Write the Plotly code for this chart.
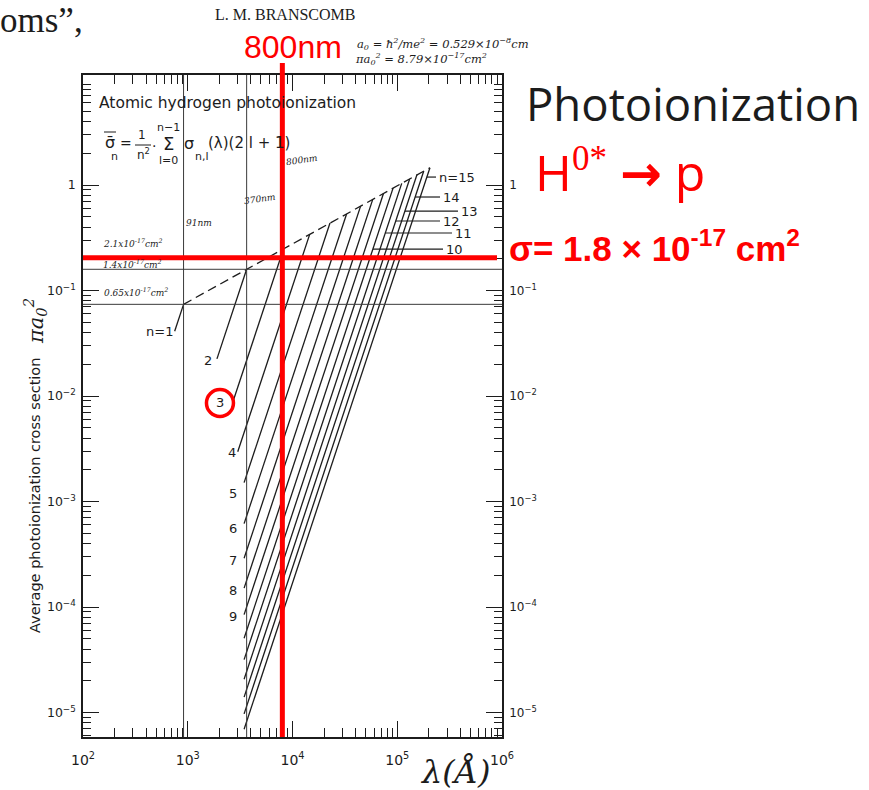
import math
import plotly.graph_objects as go

# ---------------------------------------------------------------------------
# Data: averaged photoionization cross sections of atomic hydrogen, in units
# of pi*a0^2, versus wavelength in Angstrom
# ---------------------------------------------------------------------------
n_levels = [1, 2, 3, 4, 5, 6, 7, 8, 9, 10, 11, 12, 13, 14, 15]
threshold_wl = [912, 3648, 8208, 14592, 22800, 32832, 44688, 58368, 73872,
                91200, 110352, 131328, 154128, 178752, 205200]
threshold_sigma = [0.074, 0.159, 0.248, 0.341, 0.436, 0.532, 0.631, 0.731,
                   0.832, 0.934, 1.037, 1.14, 1.25, 1.35, 1.46]
end_wl = [750, 1900, 2700, 3000, 3450, 3450, 3450, 3450, 3450,
          3450, 3450, 3450, 3450, 3450, 3450]
end_sigma = [0.0411, 0.0225, 0.00883, 0.00296, 0.00151, 6.17e-4, 2.90e-4,
             1.51e-4, 8.48e-5, 5.06e-5, 3.17e-5, 2.07e-5, 1.40e-5, 9.71e-6,
             6.94e-6]

# curve labels on the short-wavelength side
low_labels = ["n=1", "2", "3", "4", "5", "6", "7", "8", "9"]
low_label_wl = [543, 1560, 2030, 2640, 2700, 2700, 2700, 2700, 2700]
low_label_sigma = [0.0413, 0.0219, 0.0086, 0.00294, 0.00120, 5.6e-4,
                   2.79e-4, 1.42e-4, 8.2e-5]

# curve labels on the long-wavelength side, with leader lines
high_labels = ["n=15", "14", "13", "12", "11", "10"]
leader_sigma = [1.19, 0.77, 0.567, 0.456, 0.351, 0.247]
leader_wl_start = [191700, 148200, 118400, 96800, 76900, 58500]
leader_wl_end = [234400, 255900, 380000, 255900, 333000, 273400]

# reference wavelengths (Angstrom) and cross-section levels (pi*a0^2)
ref_wl = [912, 3650]
ref_wl_text = ["91nm", "370nm"]
ref_sigma = [0.159, 0.074]
ref_sigma_text = ["1.4x10<sup>-17</sup>cm<sup>2</sup>", "0.65x10<sup>-17</sup>cm<sup>2</sup>"]

# 800 nm marker
laser_wl = 8000
sigma_800_cm2 = 1.8e-17
pi_a0_sq_cm2 = 8.79e-17
sigma_800 = sigma_800_cm2 / pi_a0_sq_cm2

# axes
x_tick_vals = [1e2, 1e3, 1e4, 1e5, 1e6]
x_tick_text = ["10<sup>2</sup>", "10<sup>3</sup>", "10<sup>4</sup>", "10<sup>5</sup>", "10<sup>6</sup>"]
y_tick_vals = [1e-5, 1e-4, 1e-3, 1e-2, 1e-1, 1]
y_tick_text = ["10<sup>−5</sup>", "10<sup>−4</sup>", "10<sup>−3</sup>", "10<sup>−2</sup>", "10<sup>−1</sup>", "1"]
x_minor = [m * 10 ** e for e in range(2, 6) for m in range(2, 10)]
y_minor = [m * 10 ** e for e in range(-6, 1) for m in range(2, 10)]

W, H = 869, 790
L, R, T, B = 83, 502, 75, 737
X_RANGE = [2, 6]
Y_RANGE = [-5.232, 1.043]

INK = "#1c1c1c"
RED = "#ff0000"


def px(xp):
    return (xp - L) / (R - L)


def py(yp):
    return (B - yp) / (B - T)


fig = go.Figure()

# photoionization curves for each n
for wl0, s0, wl1, s1 in zip(end_wl, end_sigma, threshold_wl, threshold_sigma):
    fig.add_trace(go.Scatter(x=[wl0, wl1], y=[s0, s1], mode="lines",
                             line=dict(color=INK, width=1.3),
                             hoverinfo="skip", showlegend=False))

# threshold envelope
fig.add_trace(go.Scatter(x=threshold_wl, y=threshold_sigma, mode="lines",
                         line=dict(color=INK, width=1.3, dash="9px,5px"),
                         hoverinfo="skip", showlegend=False))

# red ring around the n=3 label
fig.add_trace(go.Scatter(x=[low_label_wl[2]], y=[low_label_sigma[2]], mode="markers",
                         marker=dict(symbol="circle-open", size=27, color=RED,
                                     line=dict(color=RED, width=3.5)),
                         cliponaxis=False, hoverinfo="skip", showlegend=False))

# carrier for the mirrored top/right axes
fig.add_trace(go.Scatter(x=[1e3], y=[1e-2], xaxis="x2", yaxis="y2", mode="markers",
                         marker=dict(opacity=0), hoverinfo="skip", showlegend=False))

shapes = []
for wl in ref_wl:
    shapes.append(dict(type="line", xref="x", yref="paper", x0=wl, x1=wl, y0=0, y1=1,
                       line=dict(color="#3a3a3a", width=1)))
for s in ref_sigma:
    shapes.append(dict(type="line", xref="paper", yref="y", x0=0, x1=1, y0=s, y1=s,
                       line=dict(color="#3a3a3a", width=1)))
for s, a, b in zip(leader_sigma, leader_wl_start, leader_wl_end):
    shapes.append(dict(type="line", xref="x", yref="y", x0=a, x1=b, y0=s, y1=s,
                       line=dict(color=INK, width=1.2)))
# 800 nm wavelength and its cross section
shapes.append(dict(type="line", xref="x", yref="paper", x0=laser_wl, x1=laser_wl,
                   y0=0, y1=py(63), line=dict(color=RED, width=5)))
shapes.append(dict(type="line", xref="paper", yref="y", x0=0, x1=px(497),
                   y0=sigma_800, y1=sigma_800, line=dict(color=RED, width=5)))

ann = []


def note(text, xp, yp, size=12, color=INK, family="DejaVu Sans", xanchor="center",
         yanchor="middle", angle=0, italic=False):
    ann.append(dict(text=text, x=px(xp), y=py(yp), xref="paper", yref="paper",
                    showarrow=False, xanchor=xanchor, yanchor=yanchor, textangle=angle,
                    font=dict(size=size, color=color, family=family,
                              style="italic" if italic else "normal")))


for t, wl, s in zip(low_labels, low_label_wl, low_label_sigma):
    ann.append(dict(text=t, x=math.log10(wl), y=math.log10(s), xref="x", yref="y",
                    showarrow=False, xanchor="center", yanchor="middle",
                    font=dict(size=13, color=INK, family="DejaVu Sans")))
for t, wl, s in zip(high_labels, leader_wl_end, leader_sigma):
    ann.append(dict(text=t, x=math.log10(wl), y=math.log10(s), xref="x", yref="y",
                    showarrow=False, xanchor="left", yanchor="middle", xshift=1,
                    font=dict(size=13, color=INK, family="DejaVu Sans")))

# in-plot heading and formula
note("Atomic hydrogen photoionization", 97, 103, size=15.5, xanchor="left")
note("σ\u0304", 110, 142, size=16)
note("n", 114, 157, size=11)
note("=", 126, 143, size=14)
note("1", 142, 135, size=12)
note("n<sup>2</sup>", 143, 154, size=12)
note("·", 154, 146, size=14)
note("n−1", 168, 127, size=11)
note("Σ", 168, 144, size=18)
note("l=0", 168, 160, size=11)
note("σ", 189, 143, size=16)
note("n,l", 202, 157, size=11)
note("(λ)(2 l + 1)", 206, 143, size=15, xanchor="left")
shapes.append(dict(type="line", xref="paper", yref="paper", x0=px(135), x1=px(151),
                   y0=py(145), y1=py(145), line=dict(color=INK, width=1)))
shapes.append(dict(type="line", xref="paper", yref="paper", x0=px(104), x1=px(116),
                   y0=py(132), y1=py(132), line=dict(color=INK, width=1)))

# handwritten notes
note("2.1x10<sup>-17</sup>cm<sup>2</sup>", 101, 243, size=9, family="DejaVu Serif",
     xanchor="left", italic=True)
note(ref_sigma_text[0], 101, 264, size=9, family="DejaVu Serif", xanchor="left", italic=True)
note(ref_sigma_text[1], 102, 292, size=9, family="DejaVu Serif", xanchor="left", italic=True)
note(ref_wl_text[0], 199, 223, size=9, family="DejaVu Serif", italic=True)
note(ref_wl_text[1], 260, 199, size=9, family="DejaVu Serif", italic=True, angle=-8)
note("800nm", 302, 160, size=9, family="DejaVu Serif", italic=True, angle=-8)
note("a<sub>0</sub> = ħ<sup>2</sup>/me<sup>2</sup> = 0.529×10<sup>−8</sup>cm", 355, 44,
     size=11.5, family="DejaVu Serif", xanchor="left", italic=True)
note("πa<sub>0</sub><sup>2</sup> = 8.79×10<sup>−17</sup>cm<sup>2</sup>", 353, 59,
     size=11.5, family="DejaVu Serif", xanchor="left", italic=True)

# axis titles
note("Average photoionization cross section", 35, 496, size=14.5, angle=-90)
note("πa<sub>0</sub><sup>2</sup>", 35, 321, size=21, family="DejaVu Serif", angle=-90,
     italic=True)
note("λ(Å)", 455, 772, size=32, family="DejaVu Serif", italic=True)

# page text around the figure
note("oms”,", -2, 21, size=35, family="Liberation Serif", xanchor="left")
note("L. M. BRANSCOMB", 213, 14, size=16, family="Liberation Serif", xanchor="left")
note("800nm", 293, 47, size=32, color=RED, family="Liberation Sans")
note("Photoionization", 524, 103, size=45.5, family="Open Sans", xanchor="left")
note("H<span style='font-family:Liberation Serif'><sup>0*</sup></span> "
     "<span style='font-family:DejaVu Sans'><b>→</b></span> p",
     533, 172, size=50, color=RED, family="Open Sans", xanchor="left")
note("<b>σ= 1.8 × 10<sup>-17</sup> cm<sup>2</sup></b>", 507, 246, size=35, color=RED,
     family="Liberation Sans", xanchor="left")

axis_common = dict(type="log", showgrid=False, zeroline=False, showline=True,
                   linecolor=INK, linewidth=1.5, ticks="inside", tickcolor=INK,
                   tickwidth=1.2)

fig.update_layout(
    width=W, height=H,
    margin=dict(l=L, r=W - R, t=T, b=H - B, pad=0),
    paper_bgcolor="white", plot_bgcolor="white",
    showlegend=False,
    xaxis=dict(**axis_common, range=X_RANGE, tickvals=x_tick_vals, ticktext=x_tick_text,
               ticklen=16, ticklabelstandoff=9,
               tickfont=dict(family="DejaVu Sans", size=14, color=INK),
               minor=dict(tickvals=x_minor, ticks="inside", ticklen=9,
                          tickcolor=INK, tickwidth=1)),
    yaxis=dict(**axis_common, range=Y_RANGE, tickvals=y_tick_vals, ticktext=y_tick_text,
               ticklen=16, ticklabelstandoff=3,
               tickfont=dict(family="DejaVu Sans", size=12.5, color=INK),
               minor=dict(tickvals=y_minor, ticks="inside", ticklen=8,
                          tickcolor=INK, tickwidth=1)),
    xaxis2=dict(**axis_common, range=X_RANGE, overlaying="x", side="top",
                tickvals=x_tick_vals, showticklabels=False, ticklen=16,
                minor=dict(tickvals=x_minor, ticks="inside", ticklen=9,
                           tickcolor=INK, tickwidth=1)),
    yaxis2=dict(**axis_common, range=Y_RANGE, overlaying="y", side="right",
                tickvals=y_tick_vals, ticktext=y_tick_text, ticklen=16,
                ticklabelstandoff=3,
                tickfont=dict(family="DejaVu Sans", size=12, color=INK),
                minor=dict(tickvals=y_minor, ticks="inside", ticklen=8,
                           tickcolor=INK, tickwidth=1)),
    shapes=shapes,
    annotations=ann,
)

fig.write_html("out.html")
